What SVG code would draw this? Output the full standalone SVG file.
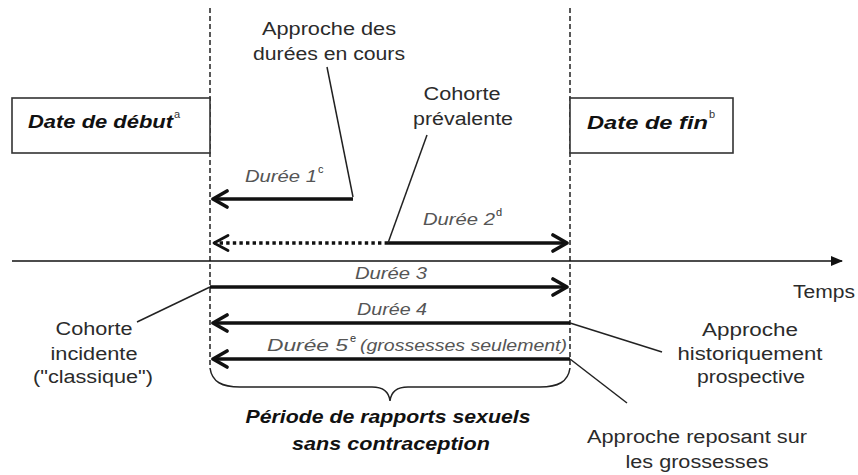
<svg xmlns="http://www.w3.org/2000/svg" width="858" height="475" viewBox="0 0 858 475">
<defs>
<style>
.lbl{font-family:"Liberation Sans",Arial,sans-serif;font-size:18px;fill:#2b2b2b}
.dur{font-family:"Liberation Sans",Arial,sans-serif;font-size:17px;font-style:italic;fill:#555}
.bi{font-family:"Liberation Sans",Arial,sans-serif;font-size:18px;font-style:italic;font-weight:bold;fill:#111}
.sup{font-family:"Liberation Sans",Arial,sans-serif;font-size:11px;fill:#333}
.guide{stroke:#222;stroke-width:1.5;stroke-dasharray:5,3;fill:none}
.box{fill:#fff;stroke:#333;stroke-width:1.6}
.thick{stroke:#111;stroke-width:3.6;fill:none}
.lead{stroke:#222;stroke-width:1.5;fill:none}
</style>
<marker id="chev" viewBox="0 0 20 20" refX="17" refY="10" markerWidth="20" markerHeight="20" markerUnits="userSpaceOnUse" orient="auto-start-reverse">
<polyline points="3,2 17,10 3,18" fill="none" stroke="#111" stroke-width="3.6" stroke-linecap="round" stroke-linejoin="round"/>
</marker>
<marker id="chev2" viewBox="0 0 20 20" refX="17" refY="10" markerWidth="20" markerHeight="20" markerUnits="userSpaceOnUse" orient="auto-start-reverse">
<polyline points="3,2.5 17,10 3,17.5" fill="none" stroke="#111" stroke-width="2.8" stroke-linecap="round" stroke-linejoin="round"/>
</marker>
<marker id="tri" viewBox="0 0 12 10" refX="11" refY="5" markerWidth="12" markerHeight="10" markerUnits="userSpaceOnUse" orient="auto">
<polygon points="0,0 12,5 0,10" fill="#111"/>
</marker>
</defs>
<rect width="858" height="475" fill="#fff"/>

<g id="guides">
<line class="guide" x1="210" y1="8" x2="210" y2="368"/>
<line class="guide" x1="570" y1="8" x2="570" y2="368"/>
</g>

<g id="start-box">
<rect class="box" x="12" y="98" width="198" height="55"/>
<text class="bi" x="28" y="128" textLength="145" lengthAdjust="spacingAndGlyphs">Date de début</text>
<text class="sup" x="174" y="118">a</text>
</g>

<g id="end-box">
<rect class="box" x="570" y="98" width="163" height="55"/>
<text class="bi" x="587" y="129" textLength="121" lengthAdjust="spacingAndGlyphs">Date de fin</text>
<text class="sup" x="709" y="118">b</text>
</g>

<g id="connectors">
<line x1="12" y1="261" x2="842" y2="261" stroke="#111" stroke-width="1.6" marker-end="url(#tri)"/>
<line class="thick" x1="353" y1="199" x2="213" y2="199" marker-end="url(#chev)"/>
<line x1="388" y1="243" x2="214" y2="243" stroke="#111" stroke-width="3.4" stroke-dasharray="3.4,3.2" marker-end="url(#chev2)"/>
<line class="thick" x1="388" y1="243" x2="567" y2="243" marker-end="url(#chev)"/>
<line class="thick" x1="210" y1="287" x2="567" y2="287" marker-end="url(#chev)"/>
<line class="thick" x1="570" y1="323" x2="213" y2="323" marker-end="url(#chev)"/>
<line class="thick" x1="570" y1="359" x2="213" y2="359" marker-end="url(#chev)"/>
<polyline class="lead" points="327,67 353,197"/>
<polyline class="lead" points="427,135 388,243"/>
<line class="lead" x1="137" y1="322" x2="210" y2="287"/>
<line class="lead" x1="570" y1="323" x2="662" y2="352"/>
<line class="lead" x1="570" y1="359" x2="627" y2="403"/>
<path class="lead" d="M210,368 C212,382 222,387 240,387 L372,387 C384,387 389,392 390,401 C391,392 396,387 408,387 L540,387 C558,387 568,382 570,368"/>
</g>

<g id="approche-durees">
<text class="lbl" x="329" y="35" text-anchor="middle" textLength="134" lengthAdjust="spacingAndGlyphs">Approche des</text>
<text class="lbl" x="329" y="60" text-anchor="middle" textLength="152" lengthAdjust="spacingAndGlyphs">durées en cours</text>
</g>

<g id="cohorte-prevalente">
<text class="lbl" x="462" y="100" text-anchor="middle" textLength="77" lengthAdjust="spacingAndGlyphs">Cohorte</text>
<text class="lbl" x="463" y="125" text-anchor="middle" textLength="100" lengthAdjust="spacingAndGlyphs">prévalente</text>
</g>

<g id="duree1">
<text class="dur" x="245" y="182" textLength="72" lengthAdjust="spacingAndGlyphs">Durée 1</text>
<text class="sup" x="318" y="173" fill="#555">c</text>
</g>

<g id="duree2">
<text class="dur" x="423" y="225" textLength="72" lengthAdjust="spacingAndGlyphs">Durée 2</text>
<text class="sup" x="496" y="216" fill="#555">d</text>
</g>

<g id="duree3">
<text class="dur" x="355" y="279" textLength="72" lengthAdjust="spacingAndGlyphs">Durée 3</text>
</g>

<g id="duree4">
<text class="dur" x="357" y="315" textLength="70" lengthAdjust="spacingAndGlyphs">Durée 4</text>
</g>

<g id="duree5">
<text class="dur" x="267" y="351" textLength="81" lengthAdjust="spacingAndGlyphs">Durée 5</text>
<text class="sup" x="350" y="342" fill="#555">e</text>
<text class="dur" x="360" y="351" textLength="207" lengthAdjust="spacingAndGlyphs">(grossesses seulement)</text>
</g>

<g id="temps">
<text class="lbl" x="793" y="298" textLength="62" lengthAdjust="spacingAndGlyphs">Temps</text>
</g>

<g id="cohorte-incidente">
<text class="lbl" x="94" y="335" text-anchor="middle" textLength="77" lengthAdjust="spacingAndGlyphs">Cohorte</text>
<text class="lbl" x="94" y="360" text-anchor="middle" textLength="87" lengthAdjust="spacingAndGlyphs">incidente</text>
<text class="lbl" x="93" y="383" text-anchor="middle" textLength="120" lengthAdjust="spacingAndGlyphs">("classique")</text>
</g>

<g id="approche-historique">
<text class="lbl" x="750" y="336" text-anchor="middle" textLength="96" lengthAdjust="spacingAndGlyphs">Approche</text>
<text class="lbl" x="750" y="360" text-anchor="middle" textLength="145" lengthAdjust="spacingAndGlyphs">historiquement</text>
<text class="lbl" x="751" y="383" text-anchor="middle" textLength="108" lengthAdjust="spacingAndGlyphs">prospective</text>
</g>

<g id="approche-grossesses">
<text class="lbl" x="697" y="443" text-anchor="middle" textLength="220" lengthAdjust="spacingAndGlyphs">Approche reposant sur</text>
<text class="lbl" x="697" y="468" text-anchor="middle" textLength="143" lengthAdjust="spacingAndGlyphs">les grossesses</text>
</g>

<g id="periode">
<text class="bi" x="388" y="423" text-anchor="middle" textLength="285" lengthAdjust="spacingAndGlyphs">Période de rapports sexuels</text>
<text class="bi" x="391" y="450" text-anchor="middle" textLength="198" lengthAdjust="spacingAndGlyphs">sans contraception</text>
</g>
</svg>
